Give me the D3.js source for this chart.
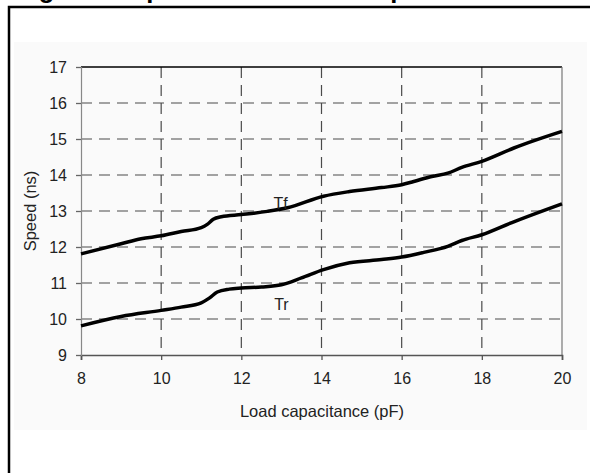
<!DOCTYPE html>
<html>
<head>
<meta charset="utf-8">
<script src="https://cdn.jsdelivr.net/npm/d3@7"></script>
<style>
  body { margin: 0; background: #fff; }
  svg { display: block; font-family: Arial, "Liberation Sans", sans-serif; }
</style>
</head>
<body>
<div id="chart"></div>
<script>
// load capacitance (pF) vs speed (ns)
const capTf = [8, 9, 9.5, 10, 10.5, 11, 11.15, 11.3, 11.5, 12, 12.65, 13.15, 14.05, 14.7, 15.5, 16, 16.3, 16.75, 17.15, 17.5, 18, 18.8, 20];
const tf    = [11.81, 12.09, 12.23, 12.31, 12.43, 12.54, 12.63, 12.77, 12.84, 12.9, 12.99, 13.09, 13.41, 13.54, 13.65, 13.73, 13.82, 13.96, 14.05, 14.21, 14.38, 14.75, 15.21];
const capTr = [8, 9, 10, 10.5, 11, 11.2, 11.4, 11.7, 12, 12.5, 13, 13.5, 14.05, 14.7, 15.5, 16, 16.55, 17.15, 17.5, 18, 18.75, 20];
const tr    = [9.81, 10.07, 10.24, 10.33, 10.45, 10.58, 10.75, 10.83, 10.86, 10.89, 10.95, 11.14, 11.37, 11.56, 11.65, 11.72, 11.85, 12.02, 12.18, 12.34, 12.68, 13.2];

const xTicks = [8, 10, 12, 14, 16, 18, 20];
const yTicks = [9, 10, 11, 12, 13, 14, 15, 16, 17];

const width = 590, height = 473;
const margin = {top: 67, right: 28, bottom: 118, left: 81};
const pw = width - margin.left - margin.right;
const ph = height - margin.top - margin.bottom;

const svg = d3.select("#chart").append("svg")
    .attr("width", width)
    .attr("height", height)
    .attr("viewBox", `0 0 ${width} ${height}`);

// faint chart-area background and the outer frame
svg.append("rect")
    .attr("x", 14).attr("y", 42).attr("width", 573).attr("height", 388)
    .attr("fill", "#fafafa");
svg.append("rect")
    .attr("x", 9).attr("y", 7).attr("width", 620).attr("height", 520)
    .attr("fill", "none").attr("stroke", "#000").attr("stroke-width", 2.5);

// title, cut off at the top of the picture as in the original
svg.append("text")
    .attr("x", 16).attr("y", -2)
    .style("font-weight", "bold").style("font-size", "25.5px")
    .text("Figure 9. Speed versus load capacitance");

const g = svg.append("g").attr("transform", `translate(${margin.left},${margin.top})`);

const x = d3.scaleLinear().domain([8, 20]).range([0, pw]);
const y = d3.scaleLinear().domain([9, 17]).range([ph, 0]);

// dashed gridlines
g.append("g").selectAll("line")
    .data(yTicks.filter(d => d > 9 && d < 17))
    .join("line")
    .attr("x1", 0).attr("x2", pw)
    .attr("y1", d => y(d)).attr("y2", d => y(d))
    .attr("stroke", "#4a4a4a").attr("stroke-width", 1.2)
    .attr("stroke-dasharray", "11,7");
g.append("g").selectAll("line")
    .data(xTicks.filter(d => d > 8 && d < 20))
    .join("line")
    .attr("x1", d => x(d)).attr("x2", d => x(d))
    .attr("y1", 0).attr("y2", ph)
    .attr("stroke", "#4a4a4a").attr("stroke-width", 1.2)
    .attr("stroke-dasharray", "11,7");

// plot frame: black top, grey right
g.append("line").attr("x1", 0).attr("x2", pw).attr("y1", 0).attr("y2", 0)
    .attr("stroke", "#000").attr("stroke-width", 1.5);
g.append("line").attr("x1", pw).attr("x2", pw).attr("y1", 0).attr("y2", ph)
    .attr("stroke", "#777").attr("stroke-width", 1.2);

// axes
const xAxis = g.append("g")
    .attr("transform", `translate(0,${ph})`)
    .call(d3.axisBottom(x).tickValues(xTicks).tickSize(5).tickPadding(13).tickFormat(d3.format("d")));
const yAxis = g.append("g")
    .call(d3.axisLeft(y).tickValues(yTicks).tickSize(5).tickPadding(9).tickFormat(d3.format("d")));

xAxis.select(".domain").attr("stroke", "#555").attr("stroke-width", 1.6);
yAxis.select(".domain").attr("stroke", "#888").attr("stroke-width", 1.2);
xAxis.selectAll(".tick line").attr("stroke", "#555").attr("stroke-width", 1.3);
yAxis.selectAll(".tick line").attr("stroke", "#666").attr("stroke-width", 1.3);
[xAxis, yAxis].forEach(a => a.selectAll("text")
    .attr("fill", "#222")
    .style("font-size", "16px")
    .style("font-family", "Arial, 'Liberation Sans', sans-serif"));

// the two curves
const line = d3.line()
    .x(d => x(d[0]))
    .y(d => y(d[1]))
    .curve(d3.curveMonotoneX);

g.append("path")
    .datum(d3.zip(capTf, tf))
    .attr("d", line)
    .attr("fill", "none").attr("stroke", "#000").attr("stroke-width", 3.5);
g.append("path")
    .datum(d3.zip(capTr, tr))
    .attr("d", line)
    .attr("fill", "none").attr("stroke", "#000").attr("stroke-width", 3.5);

// curve labels
g.append("text").attr("x", x(12.98)).attr("y", y(13) - 2)
    .attr("text-anchor", "middle").attr("fill", "#222").style("font-size", "16px")
    .text("Tf");
g.append("text").attr("x", x(13)).attr("y", y(10.4) + 5)
    .attr("text-anchor", "middle").attr("fill", "#222").style("font-size", "16px")
    .text("Tr");

// axis titles
svg.append("text")
    .attr("x", 322).attr("y", 417)
    .attr("text-anchor", "middle").attr("fill", "#222").style("font-size", "16.5px")
    .text("Load capacitance (pF)");
svg.append("text")
    .attr("transform", `translate(36,${margin.top + ph / 2}) rotate(-90)`)
    .attr("text-anchor", "middle").attr("fill", "#222").style("font-size", "16.5px")
    .text("Speed (ns)");
</script>
</body>
</html>
